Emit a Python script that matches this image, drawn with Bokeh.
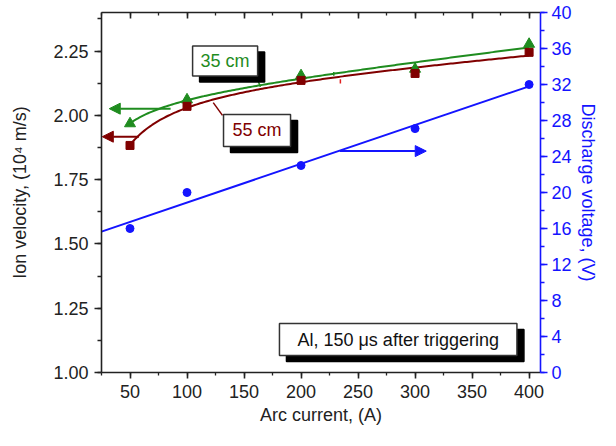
import numpy as np
from bokeh.plotting import figure
from bokeh.models import (Range1d, LinearAxis, SingleIntervalTicker, PrintfTickFormatter,
                          Arrow, NormalHead, Label, CustomLabelingPolicy)
from bokeh.embed import file_html
from bokeh.resources import INLINE

# ---- data ----
current = [50, 100, 200, 300, 400]               # Arc current, A
vel_35cm = [1.968, 2.061, 2.155, 2.180, 2.277]   # ion velocity, 1e4 m/s
vel_55cm = [1.883, 2.035, 2.136, 2.163, 2.245]
voltage = [16.0, 20.0, 23.0, 27.1, 32.0]         # discharge voltage, V

GREEN = "#1f8c1f"
DRED = "#800000"
BLUE = "#1414ff"
DARK = "#222222"
FONT = "Liberation Sans"

# smooth fits (a + b*x + c/x) for the velocity series, linear fit for voltage
xs = np.linspace(50, 400, 200)


def smooth_fit(x, y):
    x = np.asarray(x, float)
    y = np.asarray(y, float)
    A = np.column_stack([np.ones_like(x), x, 1.0 / x])
    c, *_ = np.linalg.lstsq(A, y, rcond=None)
    return c[0] + c[1] * xs + c[2] / xs


fit35 = smooth_fit(current, vel_35cm)
fit55 = smooth_fit(current, vel_55cm)
k, b = np.polyfit(current, voltage, 1)
vx = np.array([25.0, 400.0])
vfit = k * vx + b

p = figure(width=600, height=430, x_range=Range1d(25, 410), y_range=Range1d(1.0, 2.4),
           output_backend="svg", toolbar_location=None,
           min_border_left=101, min_border_right=56, min_border_top=12, min_border_bottom=58)
p.outline_line_color = None
p.grid.visible = False
p.background_fill_color = "white"
p.border_fill_color = "white"
p.extra_y_ranges = {"v": Range1d(0, 40)}


def style_axis(ax, color):
    ax.axis_line_color = color
    ax.axis_line_width = 1.6
    ax.major_tick_line_color = color
    ax.minor_tick_line_color = color
    ax.major_tick_line_width = 1.6
    ax.minor_tick_line_width = 1.3
    ax.major_label_text_font = FONT
    ax.major_label_text_font_size = "18px"
    ax.major_label_text_color = color
    ax.axis_label_text_font = FONT
    ax.axis_label_text_font_size = "18px"
    ax.axis_label_text_font_style = "normal"
    ax.axis_label_text_color = color


# bottom axis
xa = p.xaxis[0]
xa.ticker = SingleIntervalTicker(interval=50, num_minor_ticks=2)
xa.axis_label = "Arc current, (A)"
style_axis(xa, DARK)
xa.major_tick_out = 6
xa.major_tick_in = 0
xa.minor_tick_out = 3
xa.minor_tick_in = 0
xa.major_label_standoff = 6
xa.axis_label_standoff = 4

# left axis
ya = p.yaxis[0]
ya.ticker = SingleIntervalTicker(interval=0.25, num_minor_ticks=2)
ya.formatter = PrintfTickFormatter(format="%.2f")
ya.axis_label = "Ion velocity, (10\u2074 m/s)"
style_axis(ya, DARK)
ya.major_tick_out = 7
ya.major_tick_in = 0
ya.minor_tick_out = 4
ya.minor_tick_in = 0
ya.major_label_standoff = 6
ya.axis_label_standoff = 20

# right axis (voltage)
ra = LinearAxis(y_range_name="v", ticker=SingleIntervalTicker(interval=4, num_minor_ticks=2),
                axis_label="Discharge voltage, (V)")
style_axis(ra, BLUE)
ra.major_tick_out = 7
ra.major_tick_in = 0
ra.minor_tick_out = 4
ra.minor_tick_in = 0
ra.major_label_standoff = 4
ra.axis_label_standoff = 3
p.add_layout(ra, "right")

# top axis (ticks only, inward, no labels)
ta = LinearAxis(ticker=SingleIntervalTicker(interval=50, num_minor_ticks=2),
                major_label_policy=CustomLabelingPolicy(code="return []"))
ta.axis_line_color = DARK
ta.axis_line_width = 1.6
ta.major_tick_line_color = DARK
ta.minor_tick_line_color = DARK
ta.major_tick_line_width = 1.6
ta.minor_tick_line_width = 1.3
ta.major_tick_in = 6
ta.major_tick_out = 0
ta.minor_tick_in = 3
ta.minor_tick_out = 0
ta.major_label_text_font_size = "1px"
ta.major_label_standoff = 0
p.add_layout(ta, "above")

# curves
p.line(xs, fit35, line_color=GREEN, line_width=2)
p.line(xs, fit55, line_color=DRED, line_width=2)
p.line(vx, vfit, line_color=BLUE, line_width=2, y_range_name="v")

# markers
p.scatter(current, vel_35cm, marker="triangle", size=11, fill_color=GREEN, line_color=GREEN)
p.scatter(current, vel_55cm, marker="square", size=8, fill_color=DRED, line_color=DRED)
p.scatter(current, voltage, marker="circle", size=8, fill_color=BLUE, line_color=BLUE,
          y_range_name="v")

# small tick marks on the curves
p.segment(x0=[228.7], y0=[2.154], x1=[228.7], y1=[2.169], line_color=GREEN, line_width=1.5)
p.segment(x0=[234.5], y0=[2.140], x1=[234.5], y1=[2.124], line_color="#e02020", line_width=1.5)

# arrows pointing to the relevant axes
arrows = [
    (85.6, 2.026, 31.8, 2.026, GREEN, "default"),
    (57.8, 1.917, 25.7, 1.917, DRED, "default"),
    (234.0, 24.6, 309.8, 24.6, BLUE, "v"),
]
for x0, y0, x1, y1, c, rn in arrows:
    p.add_layout(Arrow(end=NormalHead(size=11, fill_color=c, line_color=c, line_width=1),
                       x_start=x0, y_start=y0, x_end=x1, y_end=y1,
                       line_color=c, line_width=2, y_range_name=rn))

# leader lines from the callouts
p.segment(x0=[160.3], y0=[2.156], x1=[164.4], y1=[2.111], line_color=GREEN, line_width=1.5)
p.segment(x0=[131.1], y0=[2.000], x1=[123.0], y1=[2.0495], line_color=DRED, line_width=1.5)


def callout(x, y, text, color, pad):
    common = dict(x=x, y=y, text=text, text_font=FONT, text_font_size="18px",
                  text_align="center", text_baseline="middle", padding=pad)
    p.add_layout(Label(x_offset=7, y_offset=-6, text_color="black",
                       background_fill_color="black", border_line_color="black",
                       border_line_width=1.5, **common))
    p.add_layout(Label(text_color=color, background_fill_color="white",
                       border_line_color="#333333", border_line_width=1.5, **common))


callout(133.4, 2.211, "35 cm", GREEN, (8, 5))
callout(161.4, 1.9415, "55 cm", DRED, (9, 6))
callout(285.2, 1.128, "Al, 150 \u03bcs after triggering", "#111111", (18, 6))

open("out.html", "w").write(file_html(p, INLINE))
